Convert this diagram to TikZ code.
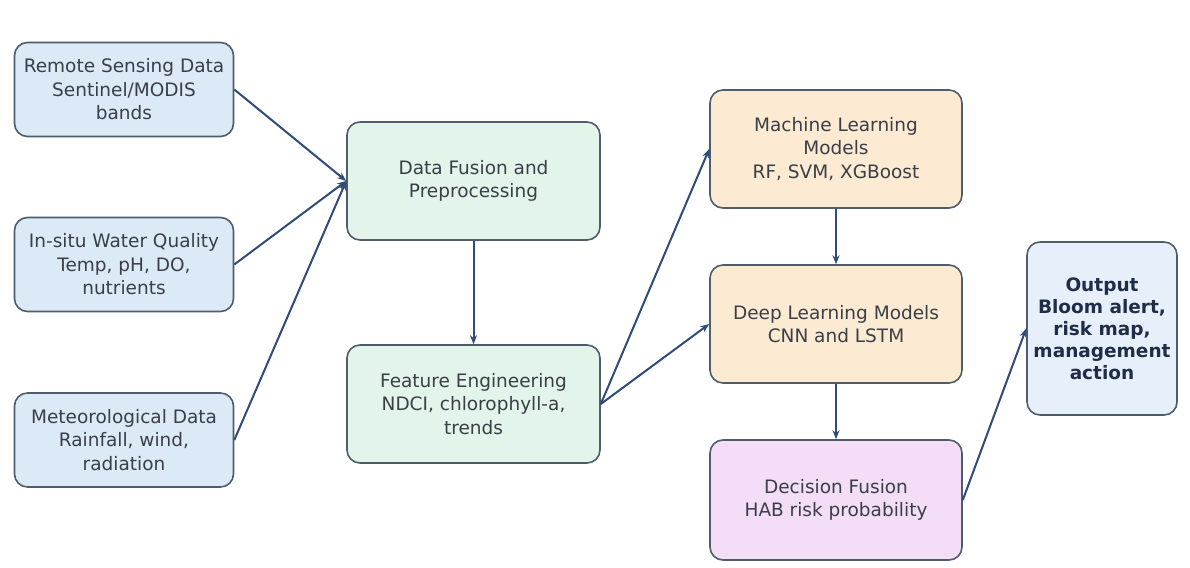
\documentclass[tikz,border=0pt]{standalone}
\usepackage{fontspec}
\setmainfont{DejaVu Sans}
\usetikzlibrary{arrows.meta}
\definecolor{inblue}{HTML}{DCEAF8}
\definecolor{procgreen}{HTML}{E3F4EA}
\definecolor{modelorange}{HTML}{FCEBD2}
\definecolor{fusepurple}{HTML}{F3DDF7}
\definecolor{outblue}{HTML}{E7F0FA}
\definecolor{boxline}{HTML}{4F5D6B}
\definecolor{arrowblue}{HTML}{2F4C78}
\definecolor{bodytext}{HTML}{3A3F47}
\definecolor{boldtext}{HTML}{1F2D48}
\tikzset{
  box/.style={draw=boxline, line width=1.6pt, rounded corners=13pt, align=center,
    text=bodytext, font=\fontsize{18.5}{23.5}\selectfont, inner sep=0pt},
  inbox/.style={box, fill=inblue, minimum width=219pt, minimum height=94pt},
  procbox/.style={box, fill=procgreen, minimum width=253pt, minimum height=118pt},
  modelbox/.style={box, fill=modelorange, minimum width=252pt, minimum height=118pt},
  fusebox/.style={box, fill=fusepurple, minimum width=252pt, minimum height=120pt},
  outbox/.style={box, fill=outblue, minimum width=150pt, minimum height=173pt,
    text=boldtext, font=\fontsize{18.5}{22}\selectfont\bfseries},
  flow/.style={draw=arrowblue, line width=2pt, -{Stealth[length=9pt,width=7pt]}}
}
\begin{document}
\begin{tikzpicture}[x=1pt,y=-1pt]
\fill[white] (0,0) rectangle (1190,567);
\useasboundingbox (0,0) rectangle (1190,567);

% input sources
\node[inbox] (rs)  at (124,89.5) {Remote Sensing Data\\Sentinel/MODIS\\bands};
\node[inbox] (wq)  at (124,264.5) {In-situ Water Quality\\Temp, pH, DO,\\nutrients};
\node[inbox] (met) at (124,440) {Meteorological Data\\Rainfall, wind,\\radiation};

% processing stages
\node[procbox] (fus)  at (473.5,181) {Data Fusion and\\Preprocessing};
\node[procbox] (feat) at (473.5,404) {Feature Engineering\\NDCI, chlorophyll-a,\\trends};

% models
\node[modelbox] (ml) at (836,149) {Machine Learning\\Models\\RF, SVM, XGBoost};
\node[modelbox] (dl) at (836,324) {Deep Learning Models\\CNN and LSTM};
\node[fusebox] (dec) at (836,500) {Decision Fusion\\HAB risk probability};

% output
\node[outbox] (out) at (1102,328.5) {Output\\Bloom alert,\\risk map,\\management\\action};

% connectors
\draw[flow] (rs.east)  -- (fus.west);
\draw[flow] (wq.east)  -- (fus.west);
\draw[flow] (met.east) -- (fus.west);
\draw[flow] (fus.south) -- (feat.north);
\draw[flow] (feat.east) -- (ml.west);
\draw[flow] (feat.east) -- (dl.west);
\draw[flow] (ml.south) -- (dl.north);
\draw[flow] (dl.south) -- (dec.north);
\draw[flow] (dec.east) -- (out.west);
\end{tikzpicture}
\end{document}
